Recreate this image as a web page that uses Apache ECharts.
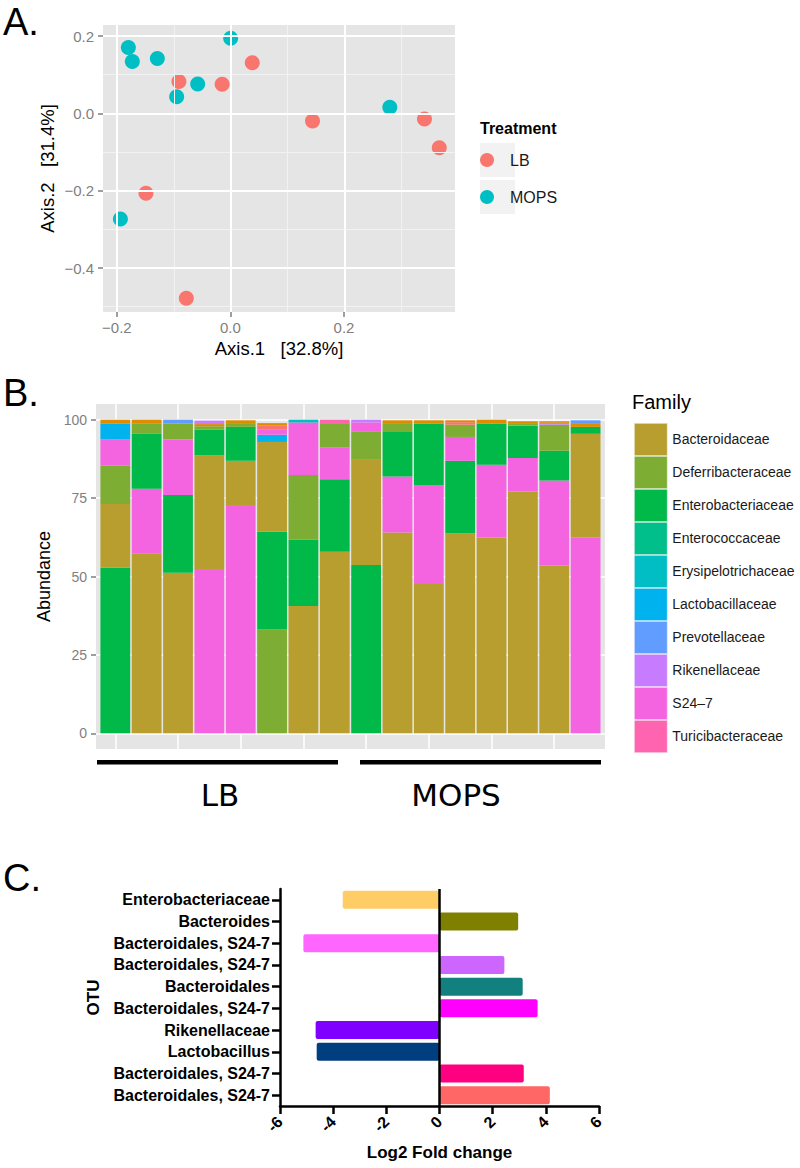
<!DOCTYPE html>
<html>
<head>
<meta charset="utf-8">
<title>Figure</title>
<script src="https://cdn.jsdelivr.net/npm/echarts@6/dist/echarts.min.js"></script>
<style>
html, body { margin:0; padding:0; background:#ffffff; }
#chart { width:800px; height:1168px; }
</style>
</head>
<body>
<div id="chart"></div>
<script>
// ---------------- Panel A: ordination ----------------
const treatments = ['LB', 'MOPS'];
const lbAxis1   = [-0.091, -0.015, 0.038,  0.144, -0.149, -0.078,  0.341,  0.367];
const lbAxis2   = [ 0.082,  0.075, 0.131, -0.020, -0.207, -0.478, -0.015, -0.089];
const mopsAxis1 = [-0.180, -0.173, -0.129, -0.095, -0.058, 0.000, -0.194, 0.280];
const mopsAxis2 = [ 0.170,  0.134,  0.142,  0.043,  0.076, 0.194, -0.273, 0.016];
const axis1Ticks = [-0.2, 0.0, 0.2];
const axis2Ticks = [-0.4, -0.2, 0.0, 0.2];
const axis1Minor = [-0.1, 0.1, 0.3];
const axis2Minor = [-0.5, -0.3, -0.1, 0.1];
const axis1Range = [-0.2246, 0.3947];
const axis2Range = [-0.5138, 0.2284];

// ---------------- Panel B: relative abundance ----------------
const families = ['Bacteroidaceae','Deferribacteraceae','Enterobacteriaceae','Enterococcaceae','Erysipelotrichaceae','Lactobacillaceae','Prevotellaceae','Rikenellaceae','S24–7','Turicibacteraceae'];
const familyColors = ['#B89E2E','#7DAD32','#00B948','#00BF8A','#00BEC3','#00B3EE','#619CFF','#C77CFF','#F564E0','#FF64B0'];
const unlistedFamilies = ['X1','X2'];
const unlistedColors = ['#F8766D','#DE8C00'];
const abundanceTicks = [0, 25, 50, 75, 100];
const sampleNames = ['LB1','LB2','LB3','LB4','LB5','LB6','LB7','LB8','MOPS1','MOPS2','MOPS3','MOPS4','MOPS5','MOPS6','MOPS7','MOPS8'];
// each sample: stacked segments from bottom to top [family, abundance]
const LB1 = [['Enterobacteriaceae',52.8],['Bacteroidaceae',20.3],['Deferribacteraceae',12.2],['S24–7',8.5],['Lactobacillaceae',4.9],['X2',1.3]];
const LB2 = [['Bacteroidaceae',57.4],['S24–7',20.6],['Enterobacteriaceae',17.5],['Deferribacteraceae',3.2],['X2',1.3]];
const LB3 = [['Bacteroidaceae',51.2],['Enterobacteriaceae',24.8],['S24–7',17.8],['Deferribacteraceae',5.0],['Prevotellaceae',1.2]];
const LB4 = [['S24–7',52.4],['Bacteroidaceae',36.2],['Enterobacteriaceae',8.2],['Deferribacteraceae',1.1],['X2',0.7],['Rikenellaceae',1.1]];
const LB5 = [['S24–7',72.8],['Bacteroidaceae',14.1],['Enterobacteriaceae',10.8],['Deferribacteraceae',1.2],['X2',0.9]];
const LB6 = [['Deferribacteraceae',33.2],['Enterobacteriaceae',31.1],['Bacteroidaceae',28.6],['Lactobacillaceae',2.3],['S24–7',1.6],['X1',1.3],['X2',0.8]];
const LB7 = [['Bacteroidaceae',40.6],['Enterobacteriaceae',21.1],['Deferribacteraceae',20.7],['S24–7',16.7],['Erysipelotrichaceae',0.9]];
const LB8 = [['Bacteroidaceae',57.9],['Enterobacteriaceae',23.1],['S24–7',10.2],['Deferribacteraceae',7.7],['Turicibacteraceae',1.1]];
const MOPS1 = [['Enterobacteriaceae',53.7],['Bacteroidaceae',33.5],['Deferribacteraceae',9.1],['S24–7',2.8],['Rikenellaceae',0.9]];
const MOPS2 = [['Bacteroidaceae',64.0],['S24–7',17.9],['Enterobacteriaceae',14.4],['Deferribacteraceae',2.6],['X2',0.9]];
const MOPS3 = [['Bacteroidaceae',47.6],['S24–7',31.6],['Enterobacteriaceae',19.5],['X2',1.1]];
const MOPS4 = [['Bacteroidaceae',63.8],['Enterobacteriaceae',23.1],['S24–7',7.6],['Deferribacteraceae',3.9],['X1',0.8],['X2',0.6]];
const MOPS5 = [['Bacteroidaceae',62.4],['S24–7',23.2],['Enterobacteriaceae',13.1],['X2',1.3]];
const MOPS6 = [['Bacteroidaceae',77.1],['S24–7',10.7],['Enterobacteriaceae',10.3],['Deferribacteraceae',0.8],['X2',0.6]];
const MOPS7 = [['Bacteroidaceae',53.5],['S24–7',27.1],['Enterobacteriaceae',9.5],['Deferribacteraceae',8.3],['Rikenellaceae',0.6],['X2',0.5]];
const MOPS8 = [['S24–7',62.4],['Bacteroidaceae',33.1],['Enterobacteriaceae',2.2],['X2',1.2],['Prevotellaceae',0.9]];
const groupLabels = ['LB', 'MOPS'];

// ---------------- Panel C: log2 fold change ----------------
const otuLabels = ['Enterobacteriaceae','Bacteroides','Bacteroidales, S24-7','Bacteroidales, S24-7','Bacteroidales','Bacteroidales, S24-7','Rikenellaceae','Lactobacillus','Bacteroidales, S24-7','Bacteroidales, S24-7'];
const log2FC = [-3.64, 2.96, -5.12, 2.44, 3.13, 3.69, -4.66, -4.62, 3.17, 4.15];
const otuColors = ['#FFCC66','#808000','#FF66FF','#CC66FF','#138080','#FF00FF','#8000FF','#003F7F','#FF0080','#FF6666'];
const fcTicks = [-6, -4, -2, 0, 2, 4, 6];

// ---------------- build ----------------
const FONT = '"Liberation Sans", Arial, Helvetica, sans-serif';
const TICKGREY = '#7F7F7F';
const samples = [LB1, LB2, LB3, LB4, LB5, LB6, LB7, LB8, MOPS1, MOPS2, MOPS3, MOPS4, MOPS5, MOPS6, MOPS7, MOPS8];
const famColor = {};
families.forEach((f, i) => famColor[f] = familyColors[i]);
unlistedFamilies.forEach((f, i) => famColor[f] = unlistedColors[i]);

const fmtA = v => (v < -1e-9 ? '\u2212' : '') + Math.abs(v).toFixed(1);

const chart = echarts.init(document.getElementById('chart'), null, { renderer: 'svg', width: 800, height: 1168 });

const hiddenVal = (gi) => ({ gridIndex: gi, type: 'value', show: false, min: 0, max: 1 });

const majorLine = { color: '#FFFFFF', width: 2, type: 'solid' };
const minorLine = { color: '#F2F2F2', width: 1, type: 'solid' };

const series = [];
// Panel A grid lines
series.push({
  type: 'scatter', xAxisIndex: 0, yAxisIndex: 0, data: [], z: 1, silent: true,
  markLine: {
    silent: true, symbol: 'none', animation: false, label: { show: false },
    emphasis: { disabled: true },
    data: [].concat(
      axis1Minor.map(v => ({ xAxis: v, lineStyle: minorLine })),
      axis2Minor.map(v => ({ yAxis: v, lineStyle: minorLine })),
      axis1Ticks.map(v => ({ xAxis: v, lineStyle: majorLine })),
      axis2Ticks.map(v => ({ yAxis: v, lineStyle: majorLine }))
    )
  }
});
series.push({
  name: treatments[0], type: 'scatter', xAxisIndex: 0, yAxisIndex: 0, z: 3,
  symbolSize: 15, itemStyle: { color: '#F8766D', opacity: 1 },
  data: lbAxis1.map((x, i) => [x, lbAxis2[i]])
});
series.push({
  name: treatments[1], type: 'scatter', xAxisIndex: 0, yAxisIndex: 0, z: 3,
  symbolSize: 15, itemStyle: { color: '#00BFC4', opacity: 1 },
  data: mopsAxis1.map((x, i) => [x, mopsAxis2[i]])
});
// Panel B legend entries
families.forEach((f, i) => series.push({
  name: f, type: 'scatter', xAxisIndex: 3, yAxisIndex: 3, data: [], itemStyle: { color: familyColors[i], opacity: 1 }
}));
// Panel B stacked layers
const maxLayers = Math.max(...samples.map(s => s.length));
for (let L = 0; L < maxLayers; L++) {
  series.push({
    type: 'bar', xAxisIndex: 4, yAxisIndex: 4, stack: 'abundance', barWidth: 29.8, clip: false, silent: true, z: 2,
    data: samples.map(s => s[L] ? { value: s[L][1], itemStyle: { color: famColor[s[L][0]] } } : '-')
  });
}
// Panel C bars
series.push({
  type: 'bar', xAxisIndex: 5, yAxisIndex: 5, barWidth: 18, silent: true,
  itemStyle: { borderRadius: 2 },
  data: log2FC.map((v, i) => ({ value: v, itemStyle: { color: otuColors[i] } })),
  markLine: {
    silent: true, symbol: 'none', animation: false, label: { show: false },
    emphasis: { disabled: true },
    lineStyle: { color: '#000', width: 2.5, type: 'solid' },
    data: [{ xAxis: 0 }]
  }
});

const option = {
  animation: false,
  backgroundColor: '#FFFFFF',
  textStyle: { fontFamily: FONT },
  grid: [
    { left: 103, top: 25, width: 352, height: 287 },        // 0 panel A data
    { left: 116.9, top: 25, width: 227.1, height: 287 },    // 1 panel A x ticks
    { left: 103, top: 36.1, width: 352, height: 231.9 },    // 2 panel A y ticks
    { left: 96, top: 419.7, width: 509, height: 313.6 },    // 3 panel B y ticks
    { left: 115.3, top: 404, width: 470.3, height: 345 },   // 4 panel B bars
    { left: 280, top: 889, width: 319, height: 217 }        // 5 panel C
  ],
  xAxis: [
    { gridIndex: 0, type: 'value', min: axis1Range[0], max: axis1Range[1],
      axisLine: { show: false }, axisTick: { show: false }, axisLabel: { show: false }, splitLine: { show: false },
      name: 'Axis.1   [32.8%]', nameLocation: 'middle', nameGap: 27,
      nameTextStyle: { fontSize: 18.5, color: '#000', fontFamily: FONT } },
    { gridIndex: 1, type: 'value', min: axis1Ticks[0], max: axis1Ticks[axis1Ticks.length - 1], interval: axis1Ticks[1] - axis1Ticks[0],
      axisLine: { show: false }, axisTick: { show: true, length: 5, lineStyle: { color: TICKGREY, width: 1.5 } },
      axisLabel: { formatter: fmtA, color: TICKGREY, fontSize: 15, margin: 8, fontFamily: FONT, showMinLabel: true, showMaxLabel: true },
      splitLine: { show: false } },
    hiddenVal(2),
    hiddenVal(3),
    { gridIndex: 4, type: 'category', data: sampleNames, boundaryGap: false,
      axisLine: { show: false }, axisTick: { show: false }, axisLabel: { show: false },
      splitLine: { show: true, lineStyle: { color: '#FFFFFF', width: 1.5 } } },
    { gridIndex: 5, type: 'value', min: fcTicks[0], max: fcTicks[fcTicks.length - 1], interval: fcTicks[1] - fcTicks[0],
      axisLine: { show: true, onZero: false, lineStyle: { color: '#000', width: 2.5 } },
      axisTick: { show: true, length: 8, lineStyle: { color: '#000', width: 2.5 } },
      axisLabel: { rotate: 45, fontSize: 16, fontWeight: 'bold', color: '#000', margin: 13, fontFamily: FONT, showMinLabel: true, showMaxLabel: true },
      splitLine: { show: false },
      name: 'Log2 Fold change', nameLocation: 'middle', nameGap: 38,
      nameTextStyle: { fontSize: 17, fontWeight: 'bold', color: '#000', fontFamily: FONT } }
  ],
  yAxis: [
    { gridIndex: 0, type: 'value', min: axis2Range[0], max: axis2Range[1],
      axisLine: { show: false }, axisTick: { show: false }, axisLabel: { show: false }, splitLine: { show: false },
      name: 'Axis.2   [31.4%]', nameLocation: 'middle', nameGap: 46,
      nameTextStyle: { fontSize: 18.5, color: '#000', fontFamily: FONT } },
    hiddenVal(1),
    { gridIndex: 2, type: 'value', min: axis2Ticks[0], max: axis2Ticks[axis2Ticks.length - 1], interval: axis2Ticks[1] - axis2Ticks[0],
      axisLine: { show: false }, axisTick: { show: true, length: 5, lineStyle: { color: TICKGREY, width: 1.5 } },
      axisLabel: { formatter: fmtA, color: TICKGREY, fontSize: 15, margin: 9, fontFamily: FONT, showMinLabel: true, showMaxLabel: true },
      splitLine: { show: false } },
    { gridIndex: 3, type: 'value', min: abundanceTicks[0], max: abundanceTicks[abundanceTicks.length - 1], interval: abundanceTicks[1] - abundanceTicks[0],
      axisLine: { show: false }, axisTick: { show: true, length: 5, lineStyle: { color: TICKGREY, width: 1.5 } },
      axisLabel: { color: TICKGREY, fontSize: 14, margin: 9, fontFamily: FONT, showMinLabel: true, showMaxLabel: true },
      splitLine: { show: true, lineStyle: { color: '#FFFFFF', width: 1.5 } },
      name: 'Abundance', nameLocation: 'middle', nameGap: 33,
      nameTextStyle: { fontSize: 18, color: '#000', fontFamily: FONT } },
    { gridIndex: 4, type: 'value', min: -5, max: 105, show: false },
    { gridIndex: 5, type: 'category', data: otuLabels.map((_, i) => 'otu' + i), inverse: true,
      axisLine: { show: true, onZero: false, lineStyle: { color: '#000', width: 2.5 } },
      axisTick: { show: true, alignWithLabel: true, length: 8, lineStyle: { color: '#000', width: 2.5 } },
      axisLabel: { formatter: (v, idx) => otuLabels[idx], fontSize: 16, fontWeight: 'bold', color: '#000', margin: 10, fontFamily: FONT, interval: 0 },
      splitLine: { show: false },
      name: 'OTU', nameLocation: 'middle', nameGap: 178,
      nameTextStyle: { fontSize: 17, fontWeight: 'bold', color: '#000', fontFamily: FONT } }
  ],
  legend: [
    { data: treatments, orient: 'vertical', left: 480, top: 152, itemWidth: 36, itemHeight: 14, itemGap: 21,
      icon: 'circle', selectedMode: false, padding: 0,
      textStyle: { fontSize: 16, color: '#1A1A1A', fontFamily: FONT } },
    { data: families, orient: 'vertical', left: 634, top: 423, itemWidth: 33, itemHeight: 32.4, itemGap: 0,
      icon: 'rect', selectedMode: false, padding: 0,
      itemStyle: { borderColor: '#F4F4F4', borderWidth: 0.6, opacity: 1 },
      textStyle: { fontSize: 14, color: '#1A1A1A', fontFamily: FONT } }
  ],
  graphic: [
    { type: 'rect', z: -10, silent: true, shape: { x: 103, y: 25, width: 352, height: 287 }, style: { fill: '#E5E5E5' } },
    { type: 'rect', z: -10, silent: true, shape: { x: 96, y: 404, width: 509, height: 345 }, style: { fill: '#E5E5E5' } },
    { type: 'rect', z: -10, silent: true, shape: { x: 480, y: 143, width: 35, height: 34 }, style: { fill: '#F2F2F2' } },
    { type: 'rect', z: -10, silent: true, shape: { x: 480, y: 180, width: 35, height: 34 }, style: { fill: '#F2F2F2' } },
    { type: 'rect', silent: true, shape: { x: 97, y: 760, width: 241, height: 4.5 }, style: { fill: '#000' } },
    { type: 'rect', silent: true, shape: { x: 360, y: 760, width: 241, height: 4.5 }, style: { fill: '#000' } },
    { type: 'text', silent: true, x: 3, y: 22, style: { text: 'A.', fontSize: 38, fontFamily: FONT, fill: '#000', align: 'left', verticalAlign: 'middle', textAlign: 'left', textVerticalAlign: 'middle' } },
    { type: 'text', silent: true, x: 3, y: 393, style: { text: 'B.', fontSize: 38, fontFamily: FONT, fill: '#000', align: 'left', verticalAlign: 'middle', textAlign: 'left', textVerticalAlign: 'middle' } },
    { type: 'text', silent: true, x: 3, y: 878, style: { text: 'C.', fontSize: 38, fontFamily: FONT, fill: '#000', align: 'left', verticalAlign: 'middle', textAlign: 'left', textVerticalAlign: 'middle' } },
    { type: 'text', silent: true, x: 480, y: 128, style: { text: 'Treatment', fontSize: 16, fontWeight: 'bold', fontFamily: FONT, fill: '#000', align: 'left', verticalAlign: 'middle', textAlign: 'left', textVerticalAlign: 'middle' } },
    { type: 'text', silent: true, x: 632, y: 402, style: { text: 'Family', fontSize: 20, fontFamily: FONT, fill: '#000', align: 'left', verticalAlign: 'middle', textAlign: 'left', textVerticalAlign: 'middle' } },
    { type: 'text', silent: true, x: 220, y: 795, style: { text: groupLabels[0], fontSize: 31, fontFamily: '"DejaVu Sans", sans-serif', fill: '#000', align: 'center', verticalAlign: 'middle', textAlign: 'center', textVerticalAlign: 'middle' } },
    { type: 'text', silent: true, x: 456, y: 795, style: { text: groupLabels[1], fontSize: 31, fontFamily: '"DejaVu Sans", sans-serif', fill: '#000', align: 'center', verticalAlign: 'middle', textAlign: 'center', textVerticalAlign: 'middle' } }
  ],
  series: series
};
chart.setOption(option);
</script>
</body>
</html>
